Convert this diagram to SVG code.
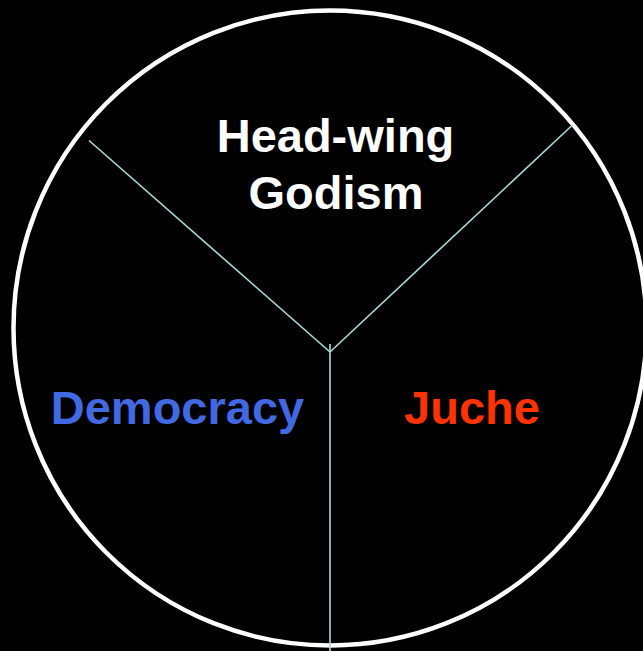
<svg xmlns="http://www.w3.org/2000/svg" width="643" height="651" viewBox="0 0 643 651">
<style>
.lbl{font-family:"Liberation Sans",Arial,sans-serif;font-weight:bold;font-size:47px;text-anchor:middle}
.div{stroke:#a8dcdc;stroke-width:1.6;fill:none}
</style>
<rect width="643" height="651" fill="#000"/>
<g id="circle"><ellipse cx="330" cy="328" rx="316.5" ry="317.5" fill="none" stroke="#fff" stroke-width="4.5"/></g>
<g id="connectors">
<line class="div" x1="89" y1="140.5" x2="330" y2="352"/>
<line class="div" x1="572.5" y1="125" x2="330" y2="352"/>
<line class="div" x1="330" y1="344" x2="330" y2="651"/>
</g>
<g id="godism"><text class="lbl" fill="#fff" x="335.5" y="152">Head-wing</text><text class="lbl" fill="#fff" x="336" y="209">Godism</text></g>
<g id="democracy"><text class="lbl" fill="#4169e1" x="177.5" y="424">Democracy</text></g>
<g id="juche"><text class="lbl" fill="#ff3300" x="472" y="424">Juche</text></g>
</svg>
